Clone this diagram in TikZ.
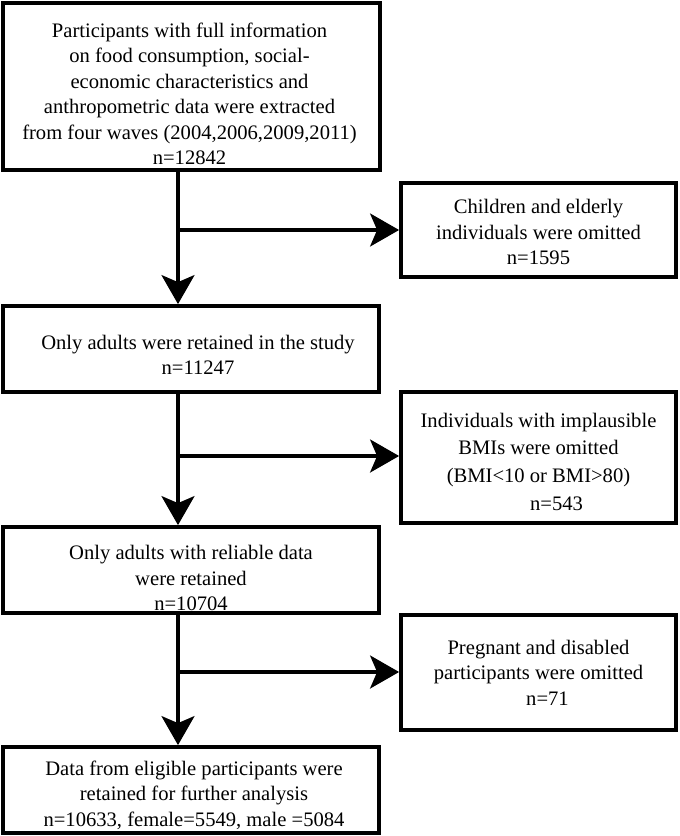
\documentclass[tikz,border=0pt]{standalone}
\usepackage{fontspec}
\setmainfont{Liberation Serif}
\usetikzlibrary{arrows.meta,calc}
\tikzset{
  box/.style={draw=black, line width=3.8pt, inner sep=0pt, fill=white},
  txt/.style={align=center, inner sep=0pt, font=\fontsize{20.6pt}{25.5pt}\selectfont},
  txtwide/.style={align=center, inner sep=0pt, font=\fontsize{20.6pt}{27.7pt}\selectfont},
  conn/.style={line width=3.2pt, draw=black},
  arr/.style={conn, -{Stealth[length=29pt,width=33pt,inset=7pt]}}
}
\begin{document}
\begin{tikzpicture}[x=1pt,y=-1pt]
\useasboundingbox[fill=white] (0,0) rectangle (680,836);
% boxes
\node[box, minimum width=377pt, minimum height=167pt] (b1) at (191.5,86.5) {};
\node[box, minimum width=275pt, minimum height=94pt] (b2) at (538.5,230) {};
\node[box, minimum width=376pt, minimum height=86pt] (b3) at (191,349) {};
\node[box, minimum width=275pt, minimum height=131pt] (b4) at (538.5,457.5) {};
\node[box, minimum width=376pt, minimum height=86pt] (b5) at (191,570) {};
\node[box, minimum width=275pt, minimum height=115pt] (b6) at (538.5,672.5) {};
\node[box, minimum width=376pt, minimum height=86pt] (b7) at (191,790) {};
% texts
\node[txt] (t1) at ($(b1.center)+(-2,7.5)$) {Participants with full information\\ on food consumption, social-\\economic characteristics and\\anthropometric data were extracted\\from four waves (2004,2006,2009,2011)\\n=12842};
\node[txt] (t2) at ($(b2.center)+(0,2)$) {Children and elderly\\individuals were omitted\\n=1595};
\node[txt] (t3) at ($(b3.center)+(7,6)$) {Only adults were retained in the study\\n=11247};
\node[txtwide] (t4) at ($(b4.center)+(0,4)$) {Individuals with implausible\\BMIs were omitted\\(BMI{<}10 or BMI{>}80)\\\hspace*{36pt}n=543};
\node[txt] (t5) at ($(b5.center)+(0,8)$) {Only adults with reliable data\\were retained\\n=10704};
\node[txt] (t6) at ($(b6.center)+(0,0)$) {Pregnant and disabled\\participants were omitted\\\hspace*{18pt}n=71};
\node[txt] (t7) at ($(b7.center)+(3,5)$) {Data from eligible participants were\\retained for further analysis\\n=10633, female=5549, male =5084};
% junctions
\coordinate (j1) at (178,230);
\coordinate (j2) at (178,456);
\coordinate (j3) at (178,672);
% connectors
\draw[arr] (j1 |- b1.south) -- (j1 |- b3.north);
\draw[arr] (j1) -- (b2.west |- j1);
\draw[arr] (j2 |- b3.south) -- (j2 |- b5.north);
\draw[arr] (j2) -- (b4.west |- j2);
\draw[arr] (j3 |- b5.south) -- (j3 |- b7.north);
\draw[arr] (j3) -- (b6.west |- j3);
\end{tikzpicture}
\end{document}
